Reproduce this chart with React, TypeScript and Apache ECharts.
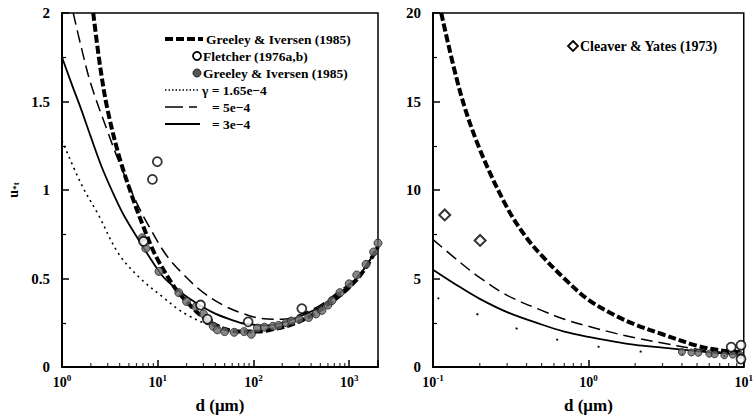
import React, { useEffect, useRef } from "react";
import * as echarts from "echarts";

// ---------- Left panel (d in µm, 1 .. 2000) ----------
const giCurveLeft: [number, number][] = [
  [2.12, 2.0], [2.5, 1.7], [3, 1.45], [4, 1.18], [5.6, 0.94], [7, 0.8], [9.5, 0.63],
  [15, 0.45], [20, 0.37], [30, 0.28], [50, 0.215], [80, 0.2], [110, 0.2],
  [150, 0.21], [250, 0.24], [400, 0.29], [700, 0.38], [1000, 0.45], [1400, 0.54],
  [2000, 0.68],
];
const gamma5Left: [number, number][] = [
  [1.31, 2.0], [1.6, 1.8], [2, 1.6], [3, 1.33], [4, 1.15], [6, 0.93], [8, 0.8],
  [12, 0.64], [18, 0.53], [30, 0.42], [50, 0.345], [80, 0.3], [120, 0.275],
  [200, 0.27], [320, 0.3], [500, 0.35], [712, 0.41], [1000, 0.47], [1370, 0.54],
  [2000, 0.68],
];
const gamma3Left: [number, number][] = [
  [1, 1.75], [1.3, 1.58], [1.6, 1.45], [2, 1.3], [2.6, 1.13], [3.5, 0.97],
  [4.5, 0.85], [7, 0.68], [11, 0.52], [15, 0.45], [21, 0.39], [37, 0.31],
  [60, 0.265], [80, 0.245], [140, 0.235], [200, 0.25], [320, 0.29], [500, 0.34],
  [712, 0.4], [1000, 0.46], [1370, 0.54], [2000, 0.68],
];
const gamma165Left: [number, number][] = [
  [1, 1.28], [1.6, 1.03], [2.4, 0.86], [3.9, 0.64], [6.6, 0.5], [11.6, 0.39],
  [16, 0.33], [21, 0.29], [30, 0.25], [50, 0.21],
];
const fletcherLeft: [number, number][] = [
  [7.1, 0.71], [8.8, 1.06], [9.9, 1.16], [28, 0.35], [33, 0.27], [88, 0.255],
  [320, 0.33],
];
const giDataLeft: [number, number][] = [
  [6.9, 0.73], [7.5, 0.67], [10.3, 0.54], [16.6, 0.42], [20, 0.37], [25, 0.34],
  [30, 0.3], [34, 0.26], [38, 0.23], [42, 0.21], [50, 0.2], [63, 0.196],
  [80, 0.2], [95, 0.185], [110, 0.22], [130, 0.225], [160, 0.23], [183, 0.235],
  [220, 0.25], [250, 0.26], [300, 0.27], [377, 0.28], [450, 0.3], [520, 0.32],
  [600, 0.35], [660, 0.375], [800, 0.42], [1000, 0.47], [1200, 0.52],
  [1500, 0.58], [1800, 0.65], [2000, 0.7],
];

// ---------- Right panel (d in µm, 0.1 .. 10) ----------
const giCurveRight: [number, number][] = [
  [0.113, 20], [0.15, 15.5], [0.2, 12.3], [0.3, 9.0], [0.4, 7.3], [0.5, 6.3],
  [0.7, 5.0], [1, 3.8], [1.5, 2.9], [2, 2.4], [3, 1.85], [5, 1.2], [7, 0.95],
  [10, 0.82],
];
const gamma5Right: [number, number][] = [
  [0.1, 7.2], [0.15, 5.9], [0.2, 5.05], [0.3, 4.05], [0.5, 3.2], [0.7, 2.7],
  [1, 2.3], [1.5, 1.9], [2, 1.65], [3, 1.35], [5, 1.0], [7, 0.85], [10, 0.75],
];
const gamma3Right: [number, number][] = [
  [0.1, 5.5], [0.15, 4.5], [0.2, 3.85], [0.3, 3.1], [0.5, 2.4], [0.7, 2.0],
  [1, 1.7], [1.5, 1.42], [2, 1.25], [3, 1.1], [5, 0.9], [7, 0.78], [10, 0.7],
];
const gamma165Right: [number, number][] = [
  [0.107, 3.9], [0.19, 3.0], [0.4, 2.0], [0.8, 1.35], [1.47, 1.03], [1.78, 0.93],
  [4, 0.72], [10, 0.58],
];
const cleaverYates: [number, number][] = [[0.119, 8.59], [0.201, 7.15]];
const fletcherRight: [number, number][] = [[8.3, 1.12], [9.6, 1.23], [9.6, 0.45]];
const giDataRight: [number, number][] = [
  [4, 0.85], [4.6, 0.82], [5.1, 0.8], [6, 0.75], [6.5, 0.72], [7.5, 0.66],
  [8.5, 0.7], [9.5, 0.68],
];

const leftTickLabels = ["0", "0.5", "1", "1.5", "2"];
const rightTickLabels = ["0", "5", "10", "15", "20"];

const FONT = "'Liberation Serif', 'DejaVu Serif', serif";

function minorLogTicks(lo: number, hi: number): [number, number][] {
  const out: [number, number][] = [];
  for (let e = Math.floor(Math.log10(lo)); e <= Math.ceil(Math.log10(hi)); e++) {
    for (let m = 2; m <= 9; m++) {
      const v = m * Math.pow(10, e);
      if (v > lo && v < hi) out.push([v, 0]);
    }
  }
  return out;
}

const supLabel = (v: number) => {
  const e = Math.log10(v);
  const r = Math.round(e);
  if (Math.abs(e - r) > 1e-6) return "";
  return "{b|10}{s|" + r + "}";
};

const richSup = {
  b: { fontFamily: FONT, fontWeight: "bold", fontSize: 14, color: "#000", lineHeight: 16, verticalAlign: "bottom" },
  s: { fontFamily: FONT, fontWeight: "bold", fontSize: 9, color: "#000", lineHeight: 16, verticalAlign: "top", padding: [0, 0, 6, 0] },
};

function xAxisCfg(gridIndex: number, min: number, max: number) {
  return {
    type: "log",
    gridIndex,
    min,
    max,
    logBase: 10,
    name: "d (\u03bcm)",
    nameLocation: "middle",
    nameGap: 30,
    nameTextStyle: { fontFamily: FONT, fontWeight: "bold", fontSize: 17, color: "#000" },
    axisLine: { lineStyle: { color: "#000", width: 2 } },
    axisTick: { inside: true, length: 7, lineStyle: { color: "#000", width: 1.5 } },
    axisLabel: { formatter: supLabel, rich: richSup, margin: 6, showMaxLabel: true },
    splitLine: { show: false },
  };
}

function yAxisCfg(gridIndex: number, max: number, interval: number, labels: string[], name: string) {
  return {
    type: "value",
    gridIndex,
    min: 0,
    max,
    interval,
    name,
    nameLocation: "middle",
    nameGap: 42,
    nameRotate: 90,
    nameTextStyle: {
      rich: {
        u: { fontFamily: FONT, fontWeight: "bold", fontSize: 14, color: "#000" },
        s: { fontFamily: FONT, fontWeight: "bold", fontSize: 9, color: "#000", verticalAlign: "bottom" },
      },
    },
    axisLine: { lineStyle: { color: "#000", width: 2 } },
    axisTick: { inside: true, length: 7, lineStyle: { color: "#000", width: 1.5 } },
    minorTick: { show: true, splitNumber: 2, length: 4, lineStyle: { color: "#000", width: 1.2 } },
    axisLabel: {
      fontFamily: FONT,
      fontWeight: "bold",
      fontSize: 15,
      color: "#000",
      margin: 12,
      formatter: (v: number) => labels[Math.round(v / interval)] ?? "",
    },
    splitLine: { show: false },
  };
}

function lineSeries(data: [number, number][], idx: number, style: any) {
  return {
    type: "line",
    xAxisIndex: idx,
    yAxisIndex: idx,
    data,
    smooth: 0.35,
    symbol: "none",
    lineStyle: { color: "#000", ...style },
    clip: true,
    z: 3,
  };
}

function scatterSeries(data: [number, number][], idx: number, symbol: string, size: any, item: any) {
  return {
    type: "scatter",
    xAxisIndex: idx,
    yAxisIndex: idx,
    data,
    symbol,
    symbolSize: size,
    itemStyle: item,
    clip: true,
    z: 4,
  };
}

const legendText = (x: number, y: number, text: string, size: number) => ({
  type: "text",
  x,
  y,
  style: { text, fontFamily: FONT, fontWeight: "bold", fontSize: size, fill: "#000", textVerticalAlign: "middle" },
});

export default function App() {
  const ref = useRef<HTMLDivElement>(null);
  useEffect(() => {
    if (!ref.current) return;
    const chart = echarts.init(ref.current, undefined, { renderer: "svg" });
    const rows = [39, 56, 73, 90, 107, 124];
    const tickSeries = (data: [number, number][], idx: number) => ({
      ...scatterSeries(data, idx, "rect", [1.2, 4], { color: "#000" }),
      symbolOffset: [0, -2],
      z: 5,
    });
    const option: any = {
      animation: false,
      backgroundColor: "#fff",
      grid: [
        { left: 62, top: 13, width: 316, height: 357, show: true, borderColor: "#000", borderWidth: 1.5 },
        { left: 433, top: 13, width: 320, height: 357, show: true, borderColor: "#000", borderWidth: 1.5 },
      ],
      xAxis: [xAxisCfg(0, 1, 2000), xAxisCfg(1, 0.1, 10)],
      yAxis: [
        yAxisCfg(0, 2, 0.5, leftTickLabels, "{u|u}{s|*t}"),
        yAxisCfg(1, 20, 5, rightTickLabels, ""),
      ],
      series: [
        lineSeries(gamma165Left, 0, { width: 1.6, type: [2, 4] }),
        lineSeries(gamma3Left, 0, { width: 1.8, type: "solid" }),
        lineSeries(gamma5Left, 0, { width: 1.5, type: [12, 6] }),
        scatterSeries(giDataLeft, 0, "circle", 8, { color: "#6a6a6a", borderColor: "#222", borderWidth: 1 }),
        lineSeries(giCurveLeft, 0, { width: 4, type: [8, 3] }),
        scatterSeries(fletcherLeft, 0, "circle", 9, { color: "#fff", borderColor: "#000", borderWidth: 1.8 }),
        tickSeries(minorLogTicks(1, 2000), 0),

        lineSeries(gamma165Right, 1, { width: 1.8, type: [2, 40] }),
        lineSeries(gamma3Right, 1, { width: 1.8, type: "solid" }),
        lineSeries(gamma5Right, 1, { width: 1.5, type: [12, 6] }),
        scatterSeries(giDataRight, 1, "circle", 7, { color: "#6a6a6a", borderColor: "#222", borderWidth: 1 }),
        lineSeries(giCurveRight, 1, { width: 4, type: [8, 3] }),
        scatterSeries(fletcherRight, 1, "circle", 9, { color: "#fff", borderColor: "#000", borderWidth: 1.8 }),
        scatterSeries(cleaverYates, 1, "diamond", 11, { color: "#fff", borderColor: "#000", borderWidth: 2 }),
        tickSeries(minorLogTicks(0.1, 10), 1),
      ],
      graphic: [
        { type: "line", shape: { x1: 165, y1: rows[0], x2: 203, y2: rows[0] }, style: { stroke: "#000", lineWidth: 4, lineDash: [8, 3] } },
        legendText(206, rows[0], "Greeley & Iversen (1985)", 13.5),
        { type: "circle", shape: { cx: 197, cy: rows[1], r: 4 }, style: { fill: "#fff", stroke: "#000", lineWidth: 1.8 } },
        legendText(203, rows[1], "Fletcher (1976a,b)", 13.5),
        { type: "circle", shape: { cx: 197, cy: rows[2], r: 4 }, style: { fill: "#555", stroke: "#222", lineWidth: 1 } },
        legendText(203, rows[2], "Greeley & Iversen (1985)", 13.5),
        { type: "line", shape: { x1: 165, y1: rows[3], x2: 199, y2: rows[3] }, style: { stroke: "#000", lineWidth: 1.6, lineDash: [1.5, 2] } },
        legendText(202, rows[3], "\u03b3 = 1.65e\u22124", 13.5),
        { type: "line", shape: { x1: 165, y1: rows[4], x2: 198, y2: rows[4] }, style: { stroke: "#000", lineWidth: 1.5, lineDash: [18, 6, 8, 100] } },
        legendText(212, rows[4], "= 5e\u22124", 13.5),
        { type: "line", shape: { x1: 165, y1: rows[5], x2: 200, y2: rows[5] }, style: { stroke: "#000", lineWidth: 2.2 } },
        legendText(212, rows[5], "= 3e\u22124", 13.5),
        { type: "polygon", shape: { points: [[573, 41], [578, 46], [573, 51], [568, 46]] }, style: { fill: "#fff", stroke: "#000", lineWidth: 1.8 } },
        legendText(580, 46, "Cleaver & Yates (1973)", 14),
      ],
    };
    chart.setOption(option);
    return () => chart.dispose();
  }, []);
  return (
    <div
      ref={ref}
      style={{ position: "fixed", left: 0, top: 0, width: 756, height: 419, background: "#fff" }}
    />
  );
}
